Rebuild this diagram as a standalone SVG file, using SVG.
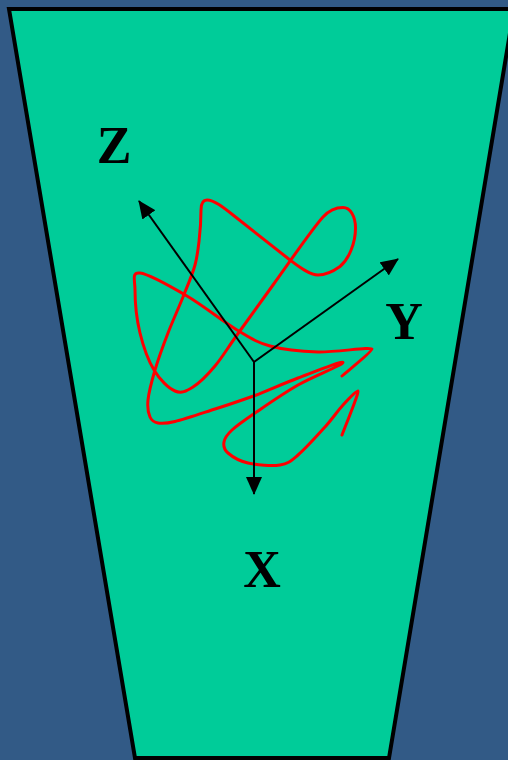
<svg xmlns="http://www.w3.org/2000/svg" width="508" height="760" viewBox="0 0 508 760">
<style>
.lbl{font-family:"Liberation Serif","Times New Roman",serif;font-weight:bold;font-size:52px;fill:#000;text-anchor:middle}
.axis{stroke:#000;stroke-width:2;fill:none}
.curve{stroke:#ff0000;stroke-width:3;fill:none;stroke-linecap:round;stroke-linejoin:round}
</style>
<defs>
<marker id="arrow" viewBox="0 0 18 16" refX="17" refY="8" markerWidth="18" markerHeight="16" markerUnits="userSpaceOnUse" orient="auto">
<path d="M0,0 L18,8 L0,16 z" fill="#000"/>
</marker>
</defs>
<rect x="0" y="0" width="508" height="760" fill="#325a86"/>
<g id="trapezoid">
<polygon points="9,9 514,9 389,758 135,758" fill="#00cc99" stroke="#000" stroke-width="4"/>
</g>
<g id="curve">
<path class="curve" d="M342 376 C347 371.5 372.5 351.5 372 349 C371.5 346.5 335 352.5 318 352 C301 351.5 283.5 349.7 270 346 C256.5 342.3 250.8 338.3 237 330 C223.2 321.7 203.2 305.5 187 296 C170.8 286.5 148.7 274 140 273 C131.3 272 135 280 135 290 C135 300 136.8 319.7 140 333 C143.2 346.3 148.2 360.3 154 370 C159.8 379.7 168.5 388.2 175 391 C181.5 393.8 186.3 391.2 193 387 C199.7 382.8 207.7 374.7 215 366 C222.3 357.3 227.3 348.5 237 335 C246.7 321.5 258.7 304.7 273 285 C287.3 265.3 312 229 323 217 C330 209.4 336 207.5 343 207.5 C350 207.5 355.5 216 355.5 228 C355.5 243 349 259 340 266.5 C333 271.5 326 275 318 275 C309 275 298 266 290 260 C271 245 252 230 233 215 C223 207 214 200 207 200 C203 200 201 204 201 210 C201 230 197.8 254.7 195 265 C192.2 275.3 187.5 285.7 183 297 C178.5 308.3 172.7 320.8 168 333 C163.3 345.2 158.3 358.8 155 370 C151.7 381.2 148.8 392.2 148 400 C147.2 407.8 148.3 413.2 150 417 C151.7 420.8 153.8 422.25 158 423 C162.2 423.75 165.5 423.8 175 421.5 C184.5 419.2 201.7 413.3 215 409 C228.8 404.8 240.2 400.7 255 395.5 C268.8 390.3 283.3 383.5 298 378 C312.7 372.5 342.3 360.5 343 362.5 C343.7 364.5 312.7 376.6 298 385 C283.3 393.4 266 405.5 255 413 C244 420.5 237.2 425.2 232 430 C226.8 434.8 224.7 438.2 224 442 C223.3 445.8 224 449.5 228 453 C232 456.5 239.3 461 248 463 C256.7 465 271.7 466.3 280 465 C288.3 463.7 290.5 461.3 298 455 C305.5 448.7 317.5 435.3 325 427 C332.5 418.7 337.5 411 343 405 C348.5 399 356.5 390.5 358 391 C359.5 391.5 344.7 427.7 342 435"/>
</g>
<g id="axes">
<line class="axis" x1="254" y1="362" x2="139" y2="201" marker-end="url(#arrow)"/>
<line class="axis" x1="254" y1="362" x2="398" y2="259" marker-end="url(#arrow)"/>
<line class="axis" x1="254" y1="361" x2="254" y2="494" marker-end="url(#arrow)"/>
</g>
<g id="label-z"><text class="lbl" x="114" y="163">Z</text></g>
<g id="label-y"><text class="lbl" x="404" y="339">Y</text></g>
<g id="label-x"><text class="lbl" x="262" y="587">X</text></g>
</svg>
